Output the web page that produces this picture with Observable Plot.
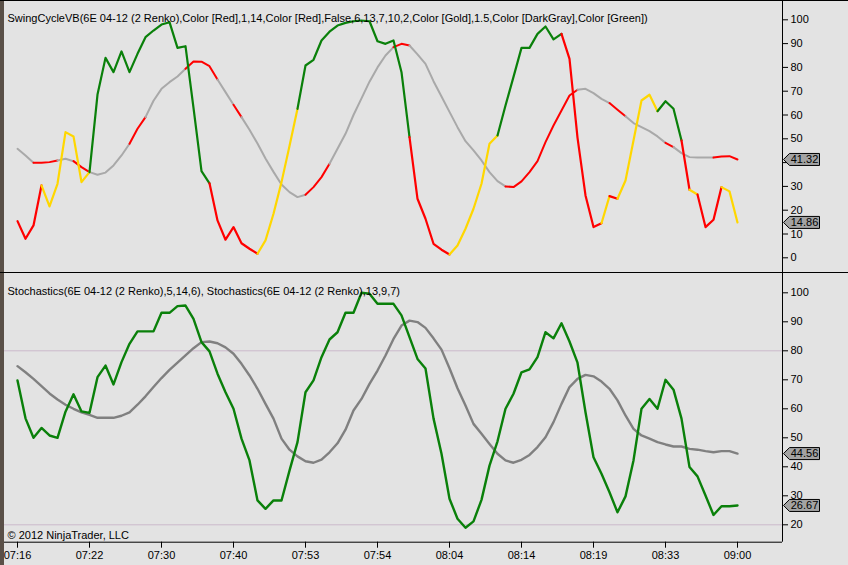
<!DOCTYPE html>
<html><head><meta charset="utf-8">
<script src="https://cdn.jsdelivr.net/npm/d3@7"></script>
<script src="https://cdn.jsdelivr.net/npm/@observablehq/plot@0.6"></script>
<style>
body{margin:0;background:#e3e3e3;}
#chart{position:relative;width:848px;height:565px;background:#e3e3e3;overflow:hidden;font-family:"Liberation Sans",Arial,sans-serif;}
#chart svg{position:absolute;left:0;display:block;}
.edge{position:absolute;left:0;top:0;width:4px;height:565px;background:#5a5048;}
.hline{position:absolute;left:0;width:848px;height:1px;background:#000;}
</style></head><body><div id="chart"></div><script>
// ---- data ----
const tickBars = [0, 9, 18, 27, 36, 45, 54, 63, 72, 81, 90];
const tickLabels = ["07:16","07:22","07:30","07:40","07:53","07:54","08:04","08:14","08:19","08:33","09:00"];

const topTitle = "SwingCycleVB(6E 04-12 (2 Renko),Color [Red],1,14,Color [Red],False,6,13,7,10,2,Color [Gold],1.5,Color [DarkGray],Color [Green])";
const bottomTitle = "Stochastics(6E 04-12 (2 Renko),5,14,6), Stochastics(6E 04-12 (2 Renko),13,9,7)";
const copyright = "© 2012 NinjaTrader, LLC";

const swingFast = [15.4, 8.0, 13.6, 30.4, 21.6, 31.1, 52.8, 51.0, 31.8, 36.0, 68.6, 84.0, 78.0, 86.7, 78.0, 85.7, 92.7, 95.5, 98.0, 99.0, 88.2, 88.9, 63.0, 36.4, 31.3, 15.7, 7.6, 12.9, 6.1, 3.8, 1.7, 7.3, 18.5, 31.8, 47.0, 62.6, 80.8, 83.2, 91.3, 95.0, 97.6, 98.7, 99.4, 99.7, 99.4, 91.0, 89.9, 91.3, 78.0, 50.7, 24.8, 16.4, 5.9, 3.4, 1.4, 5.2, 12.2, 20.6, 31.1, 47.9, 51.4, 64.0, 76.0, 88.2, 88.2, 94.1, 97.2, 91.8, 94.1, 83.6, 50.5, 26.2, 12.9, 14.5, 25.9, 24.8, 32.5, 49.3, 66.1, 68.5, 61.6, 65.8, 62.6, 49.3, 28.6, 26.6, 12.9, 16.0, 29.7, 27.9, 14.86];
const fastRunEnds   = [3, 9, 24, 30, 35, 49, 54, 60, 68, 73, 74, 75, 80, 83, 84, 85, 88, 90];
const fastRunStates = ["R","Y","G","R","Y","G","R","Y","G","R","Y","R","Y","G","R","Y","R","Y"];

const swingSlow = [45.8, 43, 39.9, 39.9, 40.2, 40.9, 41.6, 40.6, 38.1, 36, 34.9, 35.8, 38.8, 43, 47.9, 54.2, 59.1, 66, 71, 73.8, 76.2, 79.4, 82.5, 82.4, 80.5, 74.9, 69.6, 64.3, 59.1, 53.8, 48, 41.7, 36.1, 30.8, 27.6, 25.5, 26.5, 29.7, 33.9, 39.5, 45.8, 52.1, 60, 67, 74, 80, 85, 88.5, 89.9, 89.2, 85.5, 81.5, 74.2, 67.8, 61.3, 54.9, 49, 45.1, 40.9, 36, 32.2, 30, 29.7, 32.1, 36, 40.6, 48.6, 55.6, 61.9, 68.2, 70.6, 71, 69.2, 66.8, 65, 62.2, 59.5, 56.6, 54.9, 53.2, 51, 48.3, 46.5, 44, 42.3, 42.1, 42.1, 42.1, 42.6, 42.7, 41.32];
const slowRunEnds   = [2, 5, 7, 9, 14, 16, 21, 25, 27, 28, 36, 39, 47, 49, 61, 70, 74, 76, 81, 82, 87, 90];
const slowRunStates = ["N","R","N","R","N","R","N","R","N","R","N","R","N","R","N","R","N","R","N","R","N","R"];

const stochFast = [69.8, 56.7, 50, 53.4, 50.8, 50, 59, 65, 59.1, 58.6, 70.9, 74.9, 68.4, 76.1, 82.4, 86.7, 86.7, 86.7, 93.1, 93.1, 95.4, 95.6, 91, 83, 79.8, 72.1, 65.7, 60, 49.7, 42.2, 28.4, 25.5, 28.4, 28.4, 38.7, 48.5, 65.7, 69.8, 77.8, 83.9, 86.4, 93.1, 93.1, 100, 99.7, 96.2, 96.2, 96.2, 92.2, 84.7, 77.2, 73.9, 56.7, 44.5, 29, 22.1, 19, 21.2, 28.6, 40.4, 48.8, 60, 65.2, 72.6, 73.6, 77.8, 86.4, 84.3, 89.5, 83.2, 75.9, 58.8, 43.3, 37.6, 31.2, 24.3, 29.8, 42.2, 60, 63.4, 60, 70, 66.6, 56.6, 39.9, 36.7, 30.1, 23.4, 26.4, 26.4, 26.67];
const stochSlow = [74.7, 72.6, 70.3, 67.8, 65.3, 63.2, 61.4, 60, 58.8, 57.9, 56.9, 56.9, 56.9, 57.6, 58.8, 61.4, 64.3, 67.5, 70.6, 73.4, 75.9, 78.4, 80.9, 83, 83.2, 82.6, 81.2, 79, 75.5, 71.5, 66.9, 61.7, 56.6, 49.7, 45.9, 43.6, 41.9, 41.4, 42.5, 45, 48.1, 52.8, 59.4, 63.4, 68.6, 73.2, 78.4, 84.1, 88.7, 90.4, 89.9, 87.9, 84.3, 80.4, 74, 67.1, 61.1, 54.8, 51.4, 47.9, 44.5, 42.2, 41.4, 42.4, 44.1, 46.8, 50.2, 55.4, 61.7, 67.5, 70.3, 71.7, 71.2, 69.4, 66.9, 62.9, 57.7, 53.1, 50.8, 49.7, 48.5, 47.7, 47, 47, 46.2, 45.9, 45.4, 45, 45.4, 45.4, 44.56];

const topTicks = [0, 10, 20, 30, 40, 50, 60, 70, 80, 90, 100];
const bottomTicks = [20, 30, 40, 50, 60, 70, 80, 90, 100];
const levels = [20, 80];

// ---- styling ----
const stateColor = {R: "#ff0000", Y: "#ffd700", G: "#0a800a", N: "#a9a9a9"};
const W = 848, PL = 4, PR = 66;
const xDomain = [-1.625, 95.625];

function buildRuns(vals, ends, states) {
  const out = [];
  let start = 0;
  ends.forEach((end, r) => {
    for (let i = start; i <= end; i++) out.push({i, v: vals[i], run: r, color: stateColor[states[r]]});
    start = end;
  });
  return out;
}
function seriesRows(vals) { return vals.map((v, i) => ({i, v})); }

const arrow = {draw(ctx) { ctx.moveTo(0, 0); ctx.lineTo(6, -6); ctx.lineTo(36, -6); ctx.lineTo(36, 6); ctx.lineTo(6, 6); ctx.closePath(); }};
function valueTags(vals) {
  const rows = vals.map(v => ({v}));
  return [
    Plot.dot(rows, {x: () => xDomain[1], y: "v", symbol: arrow, r: 5, fill: "#a3a3a3", stroke: "#000", strokeWidth: 1, dx: 1}),
    Plot.text(rows, {x: () => xDomain[1], y: "v", text: d => d.v.toFixed(2), dx: 22, fill: "#000", fontSize: 11})
  ];
}
const baseStyle = {background: "transparent", fontFamily: "Liberation Sans, Arial, sans-serif", fontSize: "11px", color: "#000", overflow: "visible"};

const topY = {domain: [0, 100], range: [257.3, 19.3]};
const topPlot = Plot.plot({
  width: W, height: 273, marginLeft: PL, marginRight: PR, marginTop: 0, marginBottom: 0,
  style: baseStyle,
  x: {domain: xDomain, axis: null, label: null},
  y: {...topY, axis: null, label: null},
  color: {type: "identity"},
  marks: [
    Plot.ruleX([xDomain[1]], {stroke: "#000"}),
    Plot.axisY(topTicks, {anchor: "right", label: null, tickSize: 5, tickPadding: 3, tickFormat: d => String(d), fontSize: 11}),
    Plot.line(buildRuns(swingSlow, slowRunEnds, slowRunStates), {x: "i", y: "v", z: "run", stroke: "color", strokeWidth: 2}),
    Plot.line(buildRuns(swingFast, fastRunEnds, fastRunStates), {x: "i", y: "v", z: "run", stroke: "color", strokeWidth: 2.2}),
    Plot.text([topTitle], {frameAnchor: "top-left", dx: 3, dy: 14, lineAnchor: "top", textAnchor: "start", fill: "#000"}),
    ...valueTags([swingSlow[swingSlow.length - 1], swingFast[swingFast.length - 1]])
  ]
});

const bH = 292, bMB = 23.3;
const bottomY = {domain: [20, 100], range: [251.3, 19.3]};
const scaleB = d3.scaleLinear(bottomY.domain, bottomY.range);
const floorVal = scaleB.invert(bH - bMB);
const bottomPlot = Plot.plot({
  width: W, height: bH, marginLeft: PL, marginRight: PR, marginTop: 0, marginBottom: bMB,
  style: baseStyle,
  x: {domain: xDomain, axis: null, label: null},
  y: {...bottomY, axis: null, label: null},
  marks: [
    Plot.ruleY(levels, {stroke: "#cbbacb", strokeWidth: 1}),
    Plot.ruleX([xDomain[1]], {stroke: "#000"}),
    Plot.ruleY([floorVal], {stroke: "#000"}),
    Plot.axisY(bottomTicks, {anchor: "right", label: null, tickSize: 5, tickPadding: 3, tickFormat: d => String(d), fontSize: 11}),
    Plot.axisX(tickBars, {anchor: "bottom", label: null, tickSize: 6, tickPadding: 3, tickFormat: d => tickLabels[tickBars.indexOf(d)], fontSize: 11}),
    Plot.line(seriesRows(stochSlow), {x: "i", y: "v", stroke: "#808080", strokeWidth: 2.4}),
    Plot.line(seriesRows(stochFast), {x: "i", y: "v", stroke: "#0a800a", strokeWidth: 2.4}),
    Plot.text([bottomTitle], {frameAnchor: "top-left", dx: 3, dy: 14, lineAnchor: "top", textAnchor: "start", fill: "#000"}),
    Plot.text([copyright], {frameAnchor: "bottom-left", dx: 3, dy: -3, lineAnchor: "bottom", textAnchor: "start", fill: "#000"}),
    ...valueTags([stochSlow[stochSlow.length - 1], stochFast[stochFast.length - 1]])
  ]
});

const chart = document.getElementById("chart");
topPlot.style.top = "0px";
bottomPlot.style.top = "273px";
chart.appendChild(topPlot);
chart.appendChild(bottomPlot);
const edge = document.createElement("div"); edge.className = "edge"; chart.appendChild(edge);
[0, 272].forEach(t => { const l = document.createElement("div"); l.className = "hline"; l.style.top = t + "px"; chart.appendChild(l); });
</script></body></html>
